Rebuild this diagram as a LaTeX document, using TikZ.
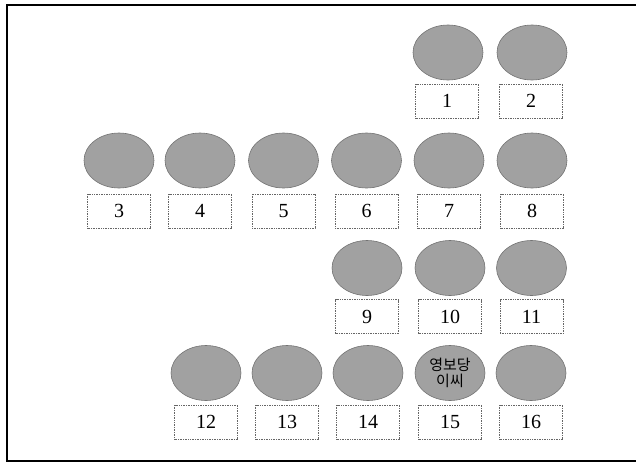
\documentclass[tikz,border=0pt]{standalone}
\usetikzlibrary{shapes.geometric}
\usepackage{fontspec}
\setmainfont{Liberation Serif}
\newfontfamily\kofont{Noto Sans CJK KR}
\begin{document}
\begin{tikzpicture}[x=1pt,y=-1pt,
  seat/.style={ellipse, draw=black!55, line width=0.6pt, fill=black!37, minimum width=70pt, minimum height=55pt, inner sep=0pt},
  tag/.style={rectangle, draw=black!60, densely dotted, line width=0.7pt, minimum width=63pt, minimum height=34pt, inner sep=0pt, font=\fontsize{20}{22}\selectfont},
  frame/.style={line width=1.4pt, black}]
\useasboundingbox (0,0) rectangle (636,463);
\draw[frame] (636,5) -- (7,5) -- (7,461) -- (636,461);
% row 1
\node[seat] (e1) at (448,52.5) {};
\node[seat] (e2) at (532,52.5) {};
\node[tag] (b1) at (447,101) {1};
\node[tag] (b2) at (531,101) {2};
% row 2
\foreach \n/\x in {3/119,4/200,5/283.5,6/366.5,7/449,8/532}{
  \node[seat] (e\n) at (\x,160.5) {};
  \node[tag] (b\n) at (\x,211) {\n};
}
% row 3
\foreach \n/\x in {9/367,10/450,11/531.5}{
  \node[seat] (e\n) at (\x,268) {};
  \node[tag] (b\n) at (\x,316.5) {\n};
}
% row 4
\foreach \n/\x in {12/206,13/287,14/368,16/531}{
  \node[seat] (e\n) at (\x,373) {};
  \node[tag] (b\n) at (\x,422) {\n};
}
\node[seat, align=center, font=\kofont\fontsize{15}{16}\selectfont] (e15) at (450,373) {영보당\\이씨};
\node[tag] (b15) at (450,422) {15};
\end{tikzpicture}
\end{document}
